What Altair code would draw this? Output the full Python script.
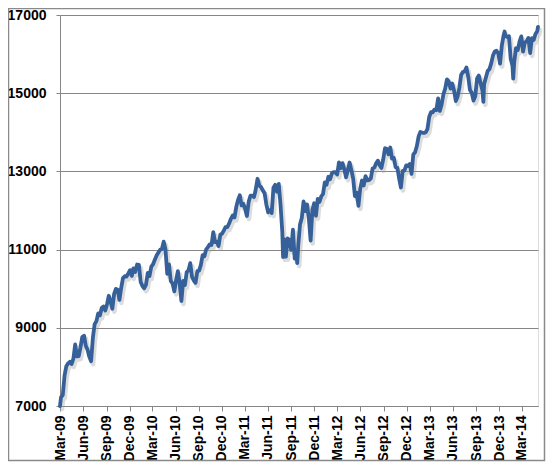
import altair as alt
import pandas as pd

# Weekly-ish readings of the index, Mar-2009 .. May-2014
dates = [
"2009-03-09","2009-03-13","2009-03-20","2009-03-27","2009-04-03","2009-04-09","2009-04-17","2009-04-24",
"2009-05-01","2009-05-08","2009-05-15","2009-05-22","2009-05-29","2009-06-05","2009-06-12","2009-06-19",
"2009-06-26","2009-07-02","2009-07-10","2009-07-17","2009-07-24","2009-07-31","2009-08-07","2009-08-14",
"2009-08-21","2009-08-28","2009-09-04","2009-09-11","2009-09-18","2009-09-25","2009-10-02","2009-10-09",
"2009-10-16","2009-10-23","2009-10-30","2009-11-06","2009-11-13","2009-11-20","2009-11-27","2009-12-04",
"2009-12-11","2009-12-18","2009-12-24","2009-12-31",
"2010-01-08","2010-01-15","2010-01-22","2010-01-29","2010-02-05","2010-02-12","2010-02-19","2010-02-26",
"2010-03-05","2010-03-12","2010-03-19","2010-03-26","2010-04-02","2010-04-09","2010-04-16","2010-04-23",
"2010-04-30","2010-05-07","2010-05-14","2010-05-21","2010-05-28","2010-06-04","2010-06-11","2010-06-18",
"2010-06-25","2010-07-02","2010-07-09","2010-07-16","2010-07-23","2010-07-30","2010-08-06","2010-08-13",
"2010-08-20","2010-08-27","2010-09-03","2010-09-10","2010-09-17","2010-09-24","2010-10-01","2010-10-08",
"2010-10-15","2010-10-22","2010-10-29","2010-11-05","2010-11-12","2010-11-19","2010-11-26","2010-12-03",
"2010-12-10","2010-12-17","2010-12-23","2010-12-31",
"2011-01-07","2011-01-14","2011-01-21","2011-01-28","2011-02-04","2011-02-11","2011-02-18","2011-02-25",
"2011-03-04","2011-03-11","2011-03-18","2011-03-25","2011-04-01","2011-04-08","2011-04-15","2011-04-21",
"2011-04-29","2011-05-06","2011-05-13","2011-05-20","2011-05-27","2011-06-03","2011-06-10","2011-06-17",
"2011-06-24","2011-07-01","2011-07-08","2011-07-15","2011-07-22","2011-07-29","2011-08-05","2011-08-08",
"2011-08-12","2011-08-19","2011-08-26","2011-09-02","2011-09-09","2011-09-16","2011-09-23","2011-09-30",
"2011-10-03","2011-10-07","2011-10-14","2011-10-21","2011-10-28","2011-11-04","2011-11-11","2011-11-18",
"2011-11-25","2011-12-02","2011-12-09","2011-12-16","2011-12-23","2011-12-30",
"2012-01-06","2012-01-13","2012-01-20","2012-01-27","2012-02-03","2012-02-10","2012-02-17","2012-02-24",
"2012-03-02","2012-03-09","2012-03-16","2012-03-23","2012-03-30","2012-04-06","2012-04-13","2012-04-20",
"2012-04-27","2012-05-04","2012-05-11","2012-05-18","2012-05-25","2012-06-01","2012-06-08","2012-06-15",
"2012-06-22","2012-06-29","2012-07-06","2012-07-13","2012-07-20","2012-07-27","2012-08-03","2012-08-10",
"2012-08-17","2012-08-24","2012-08-31","2012-09-07","2012-09-14","2012-09-21","2012-09-28","2012-10-05",
"2012-10-12","2012-10-19","2012-10-26","2012-11-02","2012-11-09","2012-11-16","2012-11-23","2012-11-30",
"2012-12-07","2012-12-14","2012-12-21","2012-12-28",
"2013-01-04","2013-01-11","2013-01-18","2013-01-25","2013-02-01","2013-02-08","2013-02-15","2013-02-22",
"2013-03-01","2013-03-08","2013-03-15","2013-03-22","2013-03-28","2013-04-05","2013-04-12","2013-04-19",
"2013-04-26","2013-05-03","2013-05-10","2013-05-17","2013-05-24","2013-05-31","2013-06-07","2013-06-14",
"2013-06-21","2013-06-28","2013-07-05","2013-07-12","2013-07-19","2013-07-26","2013-08-02","2013-08-09",
"2013-08-16","2013-08-23","2013-08-30","2013-09-06","2013-09-13","2013-09-20","2013-09-27","2013-10-04",
"2013-10-08","2013-10-11","2013-10-18","2013-10-25","2013-11-01","2013-11-08","2013-11-15","2013-11-22",
"2013-11-29","2013-12-06","2013-12-13","2013-12-20","2013-12-27","2013-12-31",
"2014-01-03","2014-01-10","2014-01-17","2014-01-24","2014-01-31","2014-02-03","2014-02-07","2014-02-14",
"2014-02-21","2014-02-28","2014-03-07","2014-03-14","2014-03-21","2014-03-28","2014-04-04","2014-04-11",
"2014-04-18","2014-04-25","2014-05-02","2014-05-09","2014-05-12",
]

values = [
7000,7224,7278,7776,8018,8083,8131,8076,
8212,8575,8268,8277,8500,8764,8799,8539,
8438,8280,8146,8743,9093,9172,9370,9321,
9505,9544,9441,9605,9820,9665,9487,9865,
9996,9972,9713,10023,10270,10318,10310,10388,
10471,10329,10520,10428,
10618,10610,10172,10067,10012,10099,10402,10325,
10566,10625,10742,10850,10927,10997,11019,11204,
11009,10380,10620,10193,10137,9931,10212,10450,
10144,9686,10198,10097,10424,10466,10654,10303,
10213,10150,10448,10462,10608,10860,10830,11006,
11063,11133,11118,11445,11193,11204,11092,11382,
11410,11492,11573,11578,
11675,11787,11872,11824,12092,12273,12391,12130,
12170,12044,11859,12220,12377,12380,12342,12506,
12811,12638,12596,12512,12442,12151,11952,12004,
11934,12582,12657,12480,12681,12143,11445,10810,
11269,10818,11285,11240,10992,11510,10772,10913,
10655,11103,11644,11809,12231,11983,12153,11796,
11231,12019,12184,11866,12294,12218,
12360,12422,12720,12660,12862,12801,12950,12983,
12978,12922,13233,13081,13212,13060,12850,13029,
13228,13038,12821,12369,12454,12119,12554,12767,
12640,12880,12772,12777,12822,13075,13096,13207,
13275,13158,13090,13306,13593,13579,13437,13610,
13328,13343,13107,13093,12815,12588,13010,13026,
13155,13135,13190,12938,
13435,13488,13650,13896,14010,13993,13982,14000,
14090,14397,14514,14512,14579,14565,14865,14547,
14712,14974,15118,15354,15303,15116,15248,15070,
14800,14910,15136,15464,15543,15559,15658,15425,
15082,15010,14810,14922,15376,15452,15258,15073,
14776,15237,15400,15570,15615,15762,15962,16065,
16086,16020,15755,16221,16479,16577,
16470,16437,16459,15880,15699,15373,15794,16154,
16103,16322,16453,16065,16303,16323,16413,16027,
16409,16361,16513,16583,16695,
]

tick_dates = [
"2009-03-09","2009-06-09","2009-09-09","2009-12-09","2010-03-09","2010-06-09","2010-09-09",
"2010-12-09","2011-03-09","2011-06-09","2011-09-09","2011-12-09","2012-03-09","2012-06-09",
"2012-09-09","2012-12-09","2013-03-09","2013-06-09","2013-09-09","2013-12-09","2014-03-09",
]
y_ticks = [7000, 9000, 11000, 13000, 15000, 17000]
x_start = "2009-03-09"
x_end = "2014-05-12"


def dt(s):
    y, m, d = (int(p) for p in s.split("-"))
    return alt.DateTime(year=y, month=m, date=d)


df = pd.DataFrame({"date": pd.to_datetime(dates), "value": values})

FONT = "Liberation Sans"
GRAY = "#868686"

x_enc = alt.X(
    "date:T",
    scale=alt.Scale(domain=[dt(x_start), dt(x_end)], nice=False),
    axis=alt.Axis(
        values=[dt(s) for s in tick_dates],
        format="%b-%y",
        labelAngle=-90,
        labelAlign="right",
        labelBaseline="middle",
        labelFont=FONT,
        labelFontSize=14,
        labelFontWeight="bold",
        labelColor="#000000",
        labelPadding=4,
        tickSize=5,
        tickColor=GRAY,
        domainColor=GRAY,
        grid=False,
        title=None,
        labelOverlap=False,
        labelFlush=False,
    ),
)
y_enc = alt.Y(
    "value:Q",
    scale=alt.Scale(domain=[7000, 17000], nice=False, zero=False),
    axis=alt.Axis(
        values=y_ticks,
        format="d",
        labelFont=FONT,
        labelFontSize=14,
        labelFontWeight="bold",
        labelColor="#000000",
        labelPadding=10,
        tickSize=4,
        tickColor=GRAY,
        domainColor=GRAY,
        grid=True,
        gridColor=GRAY,
        gridWidth=1,
        title=None,
    ),
)

base = alt.Chart(df)
shadow = base.mark_line(
    color="#9a9a9a", strokeWidth=4.5, opacity=0.35, xOffset=2, yOffset=3,
    strokeJoin="round", strokeCap="round",
).encode(x=x_enc, y=y_enc)
line = base.mark_line(
    color="#35609a", strokeWidth=3.8, strokeJoin="round", strokeCap="round"
).encode(x=x_enc, y=y_enc)

frame = alt.Chart(pd.DataFrame({"k": [0]})).mark_rect(
    fill=None, stroke="#8a8a8a", strokeWidth=1.5
).encode(
    x=alt.value(-51.5), x2=alt.value(484.5), y=alt.value(-6.5), y2=alt.value(445.5)
)

chart = alt.layer(shadow, line, frame).properties(
    width=478,
    height=391,
    padding={"left": 52, "top": 7, "right": 8, "bottom": 56},
    autosize=alt.AutoSizeParams(type="none"),
).configure_view(stroke=None).configure(background="white")

chart.save("out.html", embed_options={"renderer": "svg", "actions": False})
